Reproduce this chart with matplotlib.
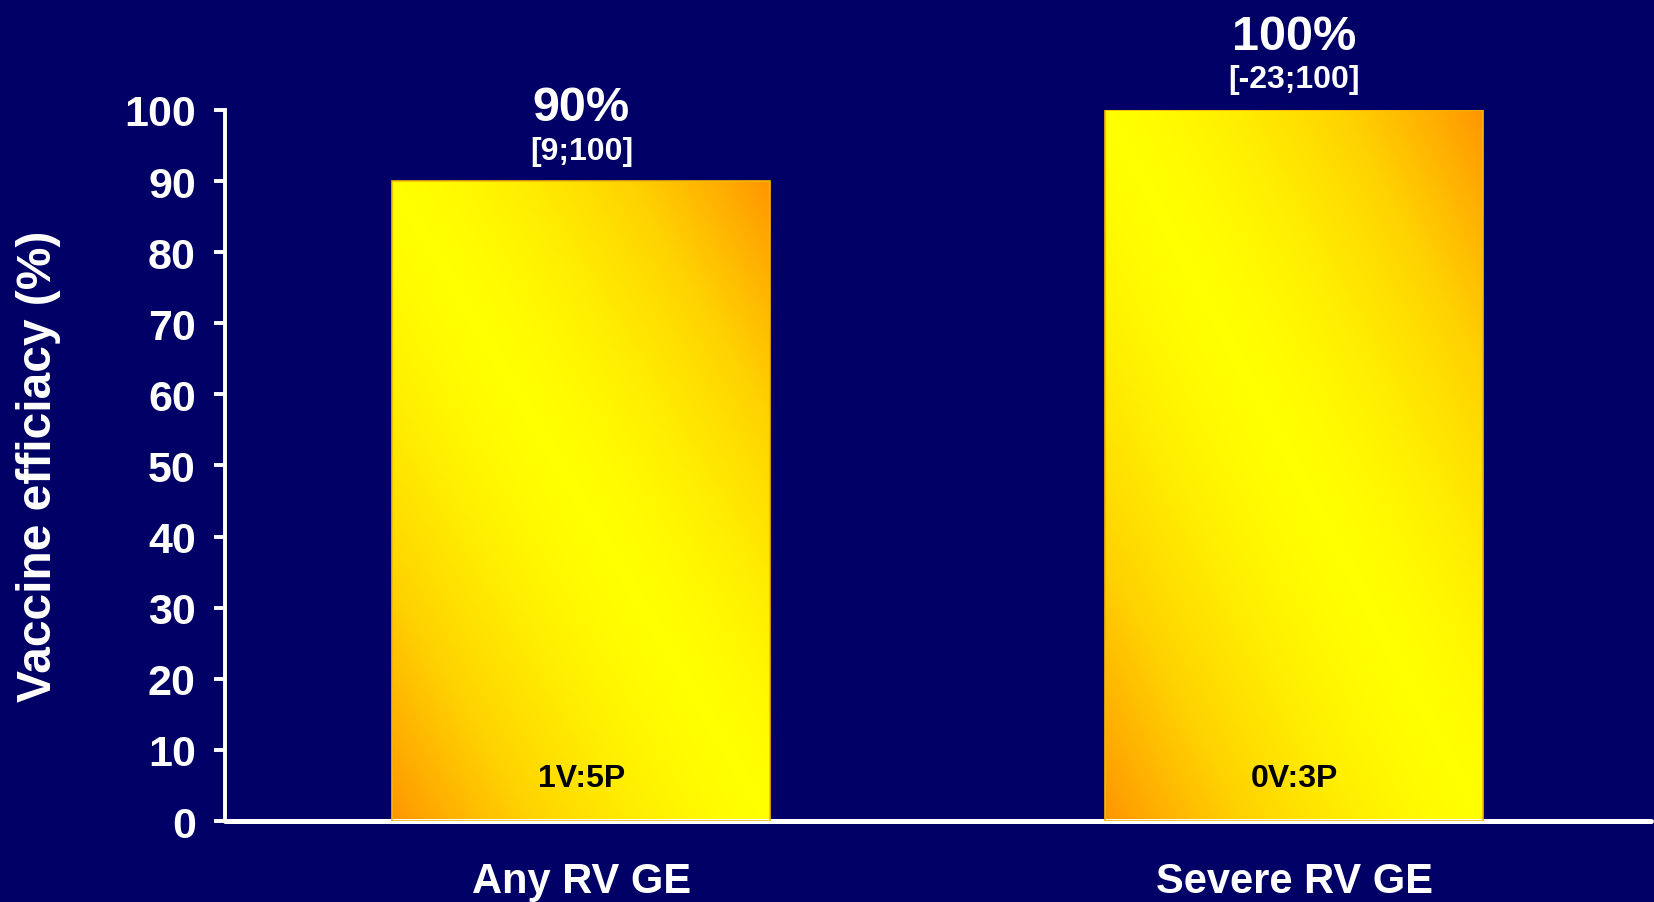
import numpy as np
import matplotlib
matplotlib.use("Agg")
import matplotlib.pyplot as plt
from matplotlib.colors import LinearSegmentedColormap

# vaccine efficacy per endpoint
categories = ["Any RV GE", "Severe RV GE"]
efficacy = [90, 100]
ci_labels = ["[9;100]", "[-23;100]"]
case_splits = ["1V:5P", "0V:3P"]
yticks = [0, 10, 20, 30, 40, 50, 60, 70, 80, 90, 100]

BG = "#000066"
plt.rcParams["font.family"] = ["Liberation Sans", "DejaVu Sans"]
plt.rcParams["font.weight"] = "bold"

fig = plt.figure(figsize=(16.54, 9.03), dpi=100, facecolor=BG)
ax = fig.add_axes([0.136, 0.0897, 0.862, 0.7874])
ax.set_facecolor(BG)

x = np.arange(len(categories))
bars = ax.bar(x, efficacy, width=0.53, color="none", edgecolor="#F5B800",
              linewidth=1.2, zorder=3)

# diagonal yellow -> orange fill: yellow along the TL-BR diagonal, orange at the other corners
cmap = LinearSegmentedColormap.from_list("yo", ["#FFFF00", "#FFD200", "#FF9600"])
u, v = np.meshgrid(np.linspace(0, 1, 200), np.linspace(0, 1, 300))
grad = np.abs(u + v - 1) ** 1.5
for b in bars:
    x0, y0 = b.get_x(), b.get_y()
    im = ax.imshow(grad, cmap=cmap, vmin=0, vmax=1, origin="lower", aspect="auto",
                   extent=(x0, x0 + b.get_width(), y0, y0 + b.get_height()),
                   interpolation="bilinear", zorder=2)
    im.set_clip_path(b)

for xi, val, ci, split in zip(x, efficacy, ci_labels, case_splits):
    ax.annotate(f"{val}%", (xi, val), xytext=(0, 53), textcoords="offset points",
                ha="center", va="center", color="white", fontsize=35,
                fontweight="bold", annotation_clip=False)
    ax.annotate(ci, (xi, val), xytext=(0, 22), textcoords="offset points",
                ha="center", va="center", color="white", fontsize=23,
                fontweight="bold", annotation_clip=False)
    ax.annotate(split, (xi, 0), xytext=(0, 31), textcoords="offset points",
                ha="center", va="center", color="black", fontsize=23,
                fontweight="bold", zorder=4)

ax.set_xlim(-0.5, 1.5)
ax.set_ylim(0, 100)
ax.set_yticks(yticks)
ax.set_xticks(x)
ax.set_xticklabels(categories)

for side in ["top", "right"]:
    ax.spines[side].set_visible(False)
ax.spines["left"].set_color("white")
ax.spines["left"].set_linewidth(2.8)
ax.spines["bottom"].set_color("white")
ax.spines["bottom"].set_linewidth(3.6)
ax.spines["bottom"].set_capstyle("round")

ax.tick_params(axis="y", colors="white", direction="out", length=8, width=2.8,
               labelsize=31, pad=13)
ax.tick_params(axis="x", colors="white", length=0, labelsize=30, pad=29)
for lab in ax.get_xticklabels() + ax.get_yticklabels():
    lab.set_fontweight("bold")

ax.set_ylabel("Vaccine efficiacy (%)", color="white", fontsize=34.5,
              fontweight="bold")
ax.yaxis.set_label_coords(-0.115, 0.5)

fig.savefig("out.png", dpi=100, facecolor=BG)
